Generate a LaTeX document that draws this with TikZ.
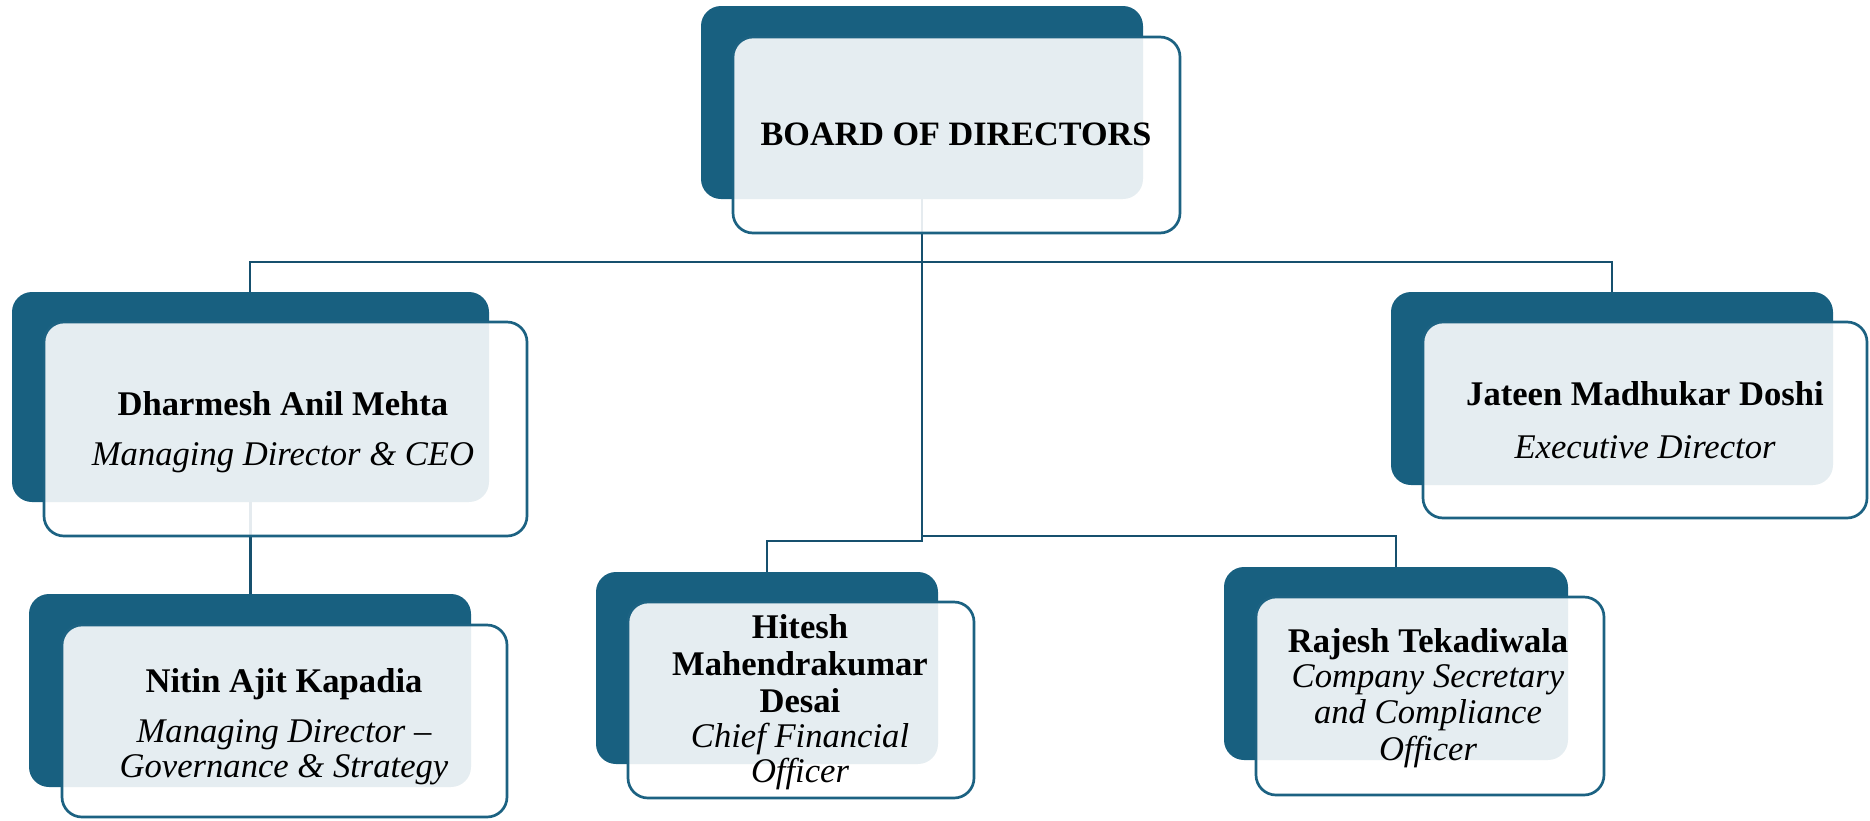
\documentclass[tikz,border=0pt]{standalone}
\usepackage{fontspec}
\setmainfont{Liberation Serif}
\definecolor{boxdark}{RGB}{24,96,128}
\definecolor{boxline}{RGB}{28,98,130}
\definecolor{connline}{RGB}{22,80,110}
\tikzset{
  darkbox/.style={rectangle, rounded corners=10pt, fill=boxdark, draw=none, inner sep=0pt, outer sep=0pt},
  topbox/.style={rectangle, rounded corners=10pt, fill=white, fill opacity=0.89, draw=boxline, line width=1.35pt, inner sep=0pt, outer sep=0pt},
  conn/.style={draw=connline, line width=1.45pt},
  nametext/.style={anchor=base, inner sep=0pt, font=\fontsize{17.3}{19}\selectfont\bfseries},
  boardtext/.style={anchor=base, inner sep=0pt, font=\fontsize{17.1}{19}\selectfont\bfseries},
  roletext/.style={anchor=base, inner sep=0pt, font=\fontsize{17.3}{19}\selectfont\itshape},
}
\begin{document}
\begin{tikzpicture}[x=0.5pt, y=-0.5pt]
\useasboundingbox (0,0) rectangle (1870,820);
% dark back boxes
\node[darkbox, minimum width=221pt, minimum height=96.5pt] (bd) at (922,102.5) {};
\node[darkbox, minimum width=238.5pt, minimum height=105pt] (dd) at (250.5,397) {};
\node[darkbox, minimum width=221pt, minimum height=96.5pt] (nd) at (250,690.5) {};
\node[darkbox, minimum width=171pt, minimum height=96pt] (hd) at (767,668) {};
\node[darkbox, minimum width=172pt, minimum height=96.5pt] (rd) at (1396,663.5) {};
\node[darkbox, minimum width=221pt, minimum height=96.5pt] (jd) at (1612,388.5) {};
% connectors
\coordinate (hl) at (250,262);
\coordinate (hr) at (1612,262);
\coordinate (j1) at (922,541);
\coordinate (j2) at (922,536);
\draw[conn] (bd.south) -- (bd.south |- hl);
\draw[conn] (hl |- dd.north) -- (hl) -- (hr) -- (jd.north);
\draw[conn] (bd.south |- hl) -- (j1) -| (hd.north);
\draw[conn] (j2) -| (rd.north);
\draw[conn] (dd.south) -- (dd.south |- nd.north);
% front boxes
\node[topbox, minimum width=223.5pt, minimum height=98pt] (bt) at (956.5,135) {};
\node[topbox, minimum width=241.5pt, minimum height=107pt] (dt) at (285.5,429) {};
\node[topbox, minimum width=222.5pt, minimum height=96pt] (nt) at (284.5,721) {};
\node[topbox, minimum width=173pt, minimum height=98pt] (ht) at (801,700) {};
\node[topbox, minimum width=174pt, minimum height=99pt] (rt) at (1430,696) {};
\node[topbox, minimum width=222pt, minimum height=98pt] (jt) at (1645,420) {};
% texts
\node[boardtext] (bl) at (956,145) {BOARD OF DIRECTORS};
\node[nametext] (dn) at (283,415) {Dharmesh Anil Mehta};
\node[roletext] (dr) at (283,465) {Managing Director \& CEO};
\node[nametext] (nn) at (284,692) {Nitin Ajit Kapadia};
\node[roletext] (nr1) at (284,742) {Managing Director –};
\node[roletext] (nr2) at (284,777) {Governance \& Strategy};
\node[nametext] (jn) at (1645,405) {Jateen Madhukar Doshi};
\node[roletext] (jr) at (1645,458) {Executive Director};
\node[nametext] (hn1) at (800,638) {Hitesh};
\node[nametext] (hn2) at (800,675) {Mahendrakumar};
\node[nametext] (hn3) at (800,712) {Desai};
\node[roletext] (hr1) at (800,747) {Chief Financial};
\node[roletext] (hr2) at (800,782) {Officer};
\node[nametext] (rn) at (1428,652) {Rajesh Tekadiwala};
\node[roletext] (rr1) at (1428,687) {Company Secretary};
\node[roletext] (rr2) at (1428,723) {and Compliance};
\node[roletext] (rr3) at (1428,760) {Officer};
\end{tikzpicture}
\end{document}
